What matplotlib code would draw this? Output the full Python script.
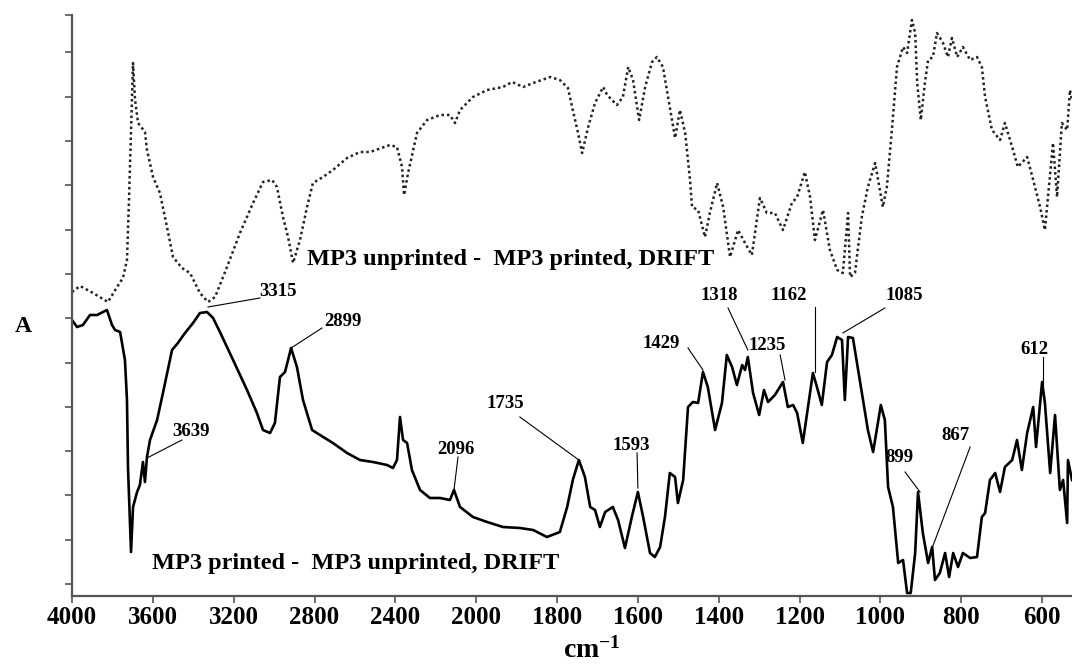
import matplotlib
matplotlib.use("Agg")
import matplotlib.pyplot as plt
import numpy as np

plt.rcParams["font.family"] = ["Liberation Serif", "DejaVu Serif"]
plt.rcParams["font.weight"] = "bold"
plt.rcParams["mathtext.fontset"] = "custom"
plt.rcParams["mathtext.rm"] = "Liberation Serif"
plt.rcParams["mathtext.bf"] = "Liberation Serif:bold"

# difference spectra, wavenumber (cm-1) and absorbance (arbitrary units)
unprinted_minus_printed_wn = [
    4000, 3960, 3896, 3822, 3777, 3748, 3728, 3718, 3708, 3698, 3688, 3673, 3639, 3629,
    3599, 3565, 3530, 3500, 3456, 3416, 3367, 3327, 3292, 3233, 3169, 3104, 3055, 3010,
    2986, 2956, 2931, 2906, 2872, 2837, 2808, 2758, 2709, 2639, 2575, 2525, 2427, 2392,
    2367, 2357, 2337, 2293, 2243, 2179, 2130, 2105, 2080, 2016, 1973, 1934, 1911, 1884,
    1859, 1817, 1793, 1773, 1761, 1748, 1738, 1723, 1706, 1686, 1676, 1652, 1637, 1624,
    1612, 1597, 1582, 1565, 1553, 1538, 1521, 1508, 1496, 1483, 1471, 1466, 1451, 1434,
    1422, 1404, 1389, 1372, 1352, 1335, 1318, 1298, 1281, 1261, 1241, 1219, 1206, 1187,
    1174, 1162, 1142, 1125, 1107, 1093, 1080, 1075, 1063, 1046, 1031, 1013, 994, 984,
    971, 959, 944, 934, 922, 914, 909, 900, 890, 882, 870, 860, 845, 833, 823, 810, 796,
    778, 761, 749, 741, 724, 704, 692, 674, 660, 637, 622, 605, 593, 580, 573, 563, 551,
    538, 531, 526]
unprinted_minus_printed_abs = [
    304, 310, 303, 294, 309, 318, 336, 396, 463, 533, 496, 473, 464, 446,
    419, 403, 369, 339, 328, 323, 303, 294, 299, 329, 363, 393, 414, 416,
    409, 379, 359, 333, 356, 389, 413, 419, 426, 438, 444, 444, 451, 449,
    429, 401, 423, 463, 476, 481, 481, 473, 486, 499, 506, 509, 514, 509,
    513, 519, 516, 508, 486, 463, 443, 469, 493, 509, 501, 491, 499, 529,
    516, 476, 509, 534, 539, 529, 489, 458, 486, 463, 416, 389, 386, 359,
    383, 413, 389, 339, 366, 353, 341, 398, 383, 383, 366, 393, 399, 424,
    399, 356, 386, 346, 326, 323, 383, 319, 323, 379, 409, 433, 389, 409,
    469, 529, 549, 543, 576, 563, 513, 476, 513, 536, 539, 563, 553, 539, 558, 539, 549,
    536, 539, 529, 499, 466, 456, 473, 449, 429, 439, 416, 389, 366, 423, 453, 399, 473,
    466, 506, 496]

printed_minus_unprinted_wn = [
    4000, 3975, 3946, 3911, 3876, 3827, 3802, 3787, 3762, 3738, 3728, 3723, 3708, 3698,
    3678, 3664, 3649, 3639, 3629, 3614, 3579, 3550, 3505, 3476, 3441, 3401, 3367, 3332,
    3302, 3268, 3203, 3134, 3085, 3055, 3020, 2996, 2971, 2946, 2916, 2887, 2857, 2812,
    2773, 2709, 2639, 2575, 2511, 2441, 2412, 2392, 2377, 2362, 2342, 2318, 2278, 2229,
    2179, 2130, 2110, 2080, 2016, 1973, 1934, 1892, 1859, 1825, 1793, 1775, 1761, 1746,
    1731, 1718, 1706, 1694, 1681, 1662, 1649, 1632, 1615, 1600, 1587, 1570, 1558, 1545,
    1533, 1521, 1508, 1501, 1488, 1476, 1464, 1451, 1439, 1427, 1409, 1392, 1380, 1367,
    1355, 1342, 1335, 1328, 1315, 1300, 1288, 1278, 1261, 1241, 1229, 1216, 1206, 1192,
    1179, 1167, 1157, 1145, 1132, 1120, 1107, 1095, 1088, 1080, 1068, 1055, 1043, 1031,
    1018, 1008, 999, 989, 981, 969, 956, 944, 934, 925, 914, 907, 895, 882, 872, 865,
    853, 840, 830, 820, 808, 796, 778, 761, 749, 741, 729, 716, 704, 692, 674, 662, 650,
    637, 622, 615, 600, 593, 580, 568, 556, 548, 538, 536, 526]
printed_minus_unprinted_abs = [
    276, 269, 271, 281, 281, 286, 271, 266, 264, 236, 196, 129, 44, 89,
    104, 111, 134, 114, 139, 156, 176, 203, 246, 253, 263, 273, 283, 284,
    278, 264, 236, 206, 183, 166, 163, 173, 219, 224, 248, 229, 196, 166,
    161, 153, 143, 136, 134, 131, 128, 136, 179, 156, 153, 126, 106, 98,
    98, 96, 106, 89, 79, 74, 69, 68, 66, 59, 64, 89, 116, 136,
    119, 89, 86, 69, 84, 89, 76, 48, 79, 104, 79, 43, 39, 49,
    79, 123, 119, 93, 116, 189, 194, 193, 224, 209, 166, 193, 241, 229,
    211, 231, 226, 239, 203, 181, 206, 194, 201, 214, 189, 191, 183, 153,
    189, 223, 209, 191, 234, 241, 259, 256, 196, 259, 258, 226, 196, 166,
    144, 169, 191, 176, 109, 89, 33, 36, 3, 3, 43, 104, 63, 33, 49, 16,
    23, 43, 19, 43, 29, 43, 38, 39, 79, 83, 116, 123, 104, 129, 136, 156, 126,
    163, 189, 149, 214, 193, 123, 181, 106, 116, 73, 136, 116]

# peak labels: text, peak point, leader-line end, text centre
peak_labels = ["3315", "2899", "3639", "2096", "1735", "1593", "1429",
               "1318", "1162", "1085", "1235", "899", "867", "612"]
peak_wn = [3327, 2916, 3629, 2110, 1746, 1600, 1439, 1328, 1162, 1093, 1236, 902, 872, 598]
peak_abs = [289, 248, 138, 106, 136, 108, 226, 246, 224, 263, 216, 104, 48, 211]
line_wn = [3070, 2763, 3456, 2090, 1892, 1602, 1476, 1377, 1162, 989, 1248, 939, 778, 598]
line_abs = [298, 268, 156, 139, 179, 143, 248, 288, 289, 288, 241, 124, 149, 239]
text_wn = [2981, 2659, 3411, 2100, 1929, 1617, 1543, 1399, 1226, 942, 1281, 952, 813, 620]
text_abs = [305, 275, 165, 147, 192, 151, 253, 301, 301, 301, 251, 138, 161, 246]

x_ticks = [4000, 3600, 3200, 2800, 2400, 2000, 1800, 1600, 1400, 1200, 1000, 800, 600]


def fwd(w):
    # FTIR convention: scale halves below 2000 cm-1
    w = np.asarray(w, dtype=float)
    return np.where(w >= 2000, w / 2 + 1000, w)


def inv(u):
    u = np.asarray(u, dtype=float)
    return np.where(u >= 2000, 2 * (u - 1000), u)


fig = plt.figure(figsize=(10.72, 6.65), dpi=100)
ax = fig.add_axes([72 / 1072, 69 / 665, 1000 / 1072, 581 / 665])
ax.set_xscale("function", functions=(fwd, inv))

ax.plot(unprinted_minus_printed_wn, unprinted_minus_printed_abs, color="#222222",
        lw=1.8, ls=(0, (1, 1.2)))
ax.plot(printed_minus_unprinted_wn, printed_minus_unprinted_abs, color="black", lw=1.9)

for lab, pw, pa, lw_, la, tw, ta in zip(peak_labels, peak_wn, peak_abs, line_wn,
                                         line_abs, text_wn, text_abs):
    ax.plot([pw, lw_], [pa, la], color="black", lw=0.8)
    ax.text(tw, ta, lab, ha="center", va="center", fontsize=13.5, fontweight="bold")

ax.text(2837, 336, "MP3 unprinted -  MP3 printed, DRIFT", ha="left", va="center",
        fontsize=17.5, fontweight="bold")
ax.text(3604, 32, "MP3 printed -  MP3 unprinted, DRIFT", ha="left", va="center",
        fontsize=17.5, fontweight="bold")

ax.set_xlim(4000, 526)
ax.set_ylim(0, 581)
ax.set_xticks(x_ticks)
ax.set_xticklabels([str(t) for t in x_ticks], fontsize=18, fontweight="bold")
ax.set_yticks(list(12 + 44.3 * np.arange(13)) + [581])
ax.tick_params(axis="both", direction="out", length=5, width=1.2, color="#555555")
ax.tick_params(axis="y", labelleft=False)
ax.tick_params(axis="x", pad=2)
for s in ["top", "right"]:
    ax.spines[s].set_visible(False)
for s in ["left", "bottom"]:
    ax.spines[s].set_color("#555555")
    ax.spines[s].set_linewidth(1.6)

fig.text(23 / 1072, 1 - 327 / 665, "A", ha="center", va="center", fontsize=17,
         fontweight="bold")
fig.text(592 / 1072, 1 - 650 / 665, r"$\mathbf{cm^{-1}}$", ha="center", va="center",
         fontsize=20)

fig.savefig("out.png", dpi=100)
